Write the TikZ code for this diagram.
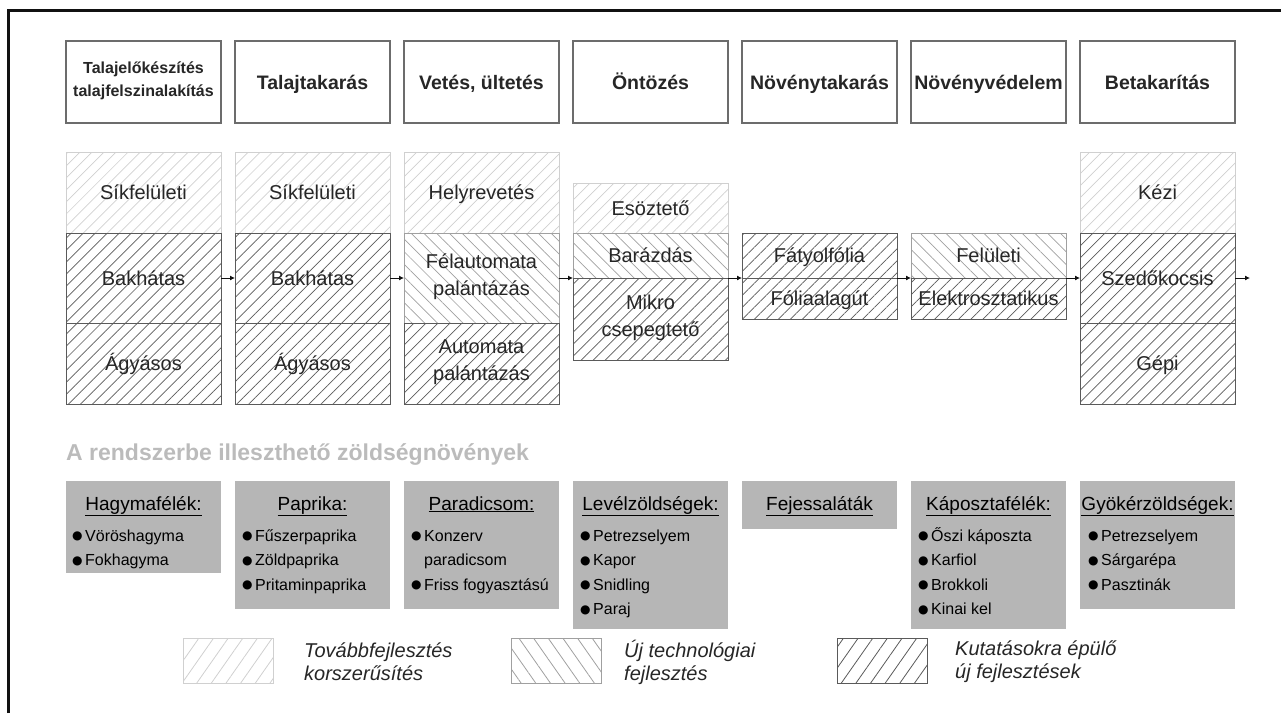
\documentclass[tikz,border=0pt]{standalone}
\usepackage{fontspec}
\setmainfont{Liberation Sans}
\newfontfamily\symfont{DejaVu Sans}
\usetikzlibrary{arrows.meta,positioning,patterns.meta}
\definecolor{FrameInk}{HTML}{111111}
\definecolor{HeadLine}{HTML}{6C6C6C}
\definecolor{HatchSoft}{HTML}{D0D0D0}
\definecolor{HatchMid}{HTML}{A0A0A0}
\definecolor{HatchDeep}{HTML}{5A5A5A}
\definecolor{CropFill}{HTML}{B6B6B6}
\definecolor{TitleGrey}{HTML}{BBBBBB}
\definecolor{InkText}{HTML}{262626}

\newcommand{\blt}{\makebox[13pt][l]{\raisebox{1.2pt}{\symfont\fontsize{12}{12}\selectfont ●}}}
\newcommand{\vstr}{\rule[-6pt]{0pt}{26.3pt}}
\newcommand{\fstr}{\rule[-5pt]{0pt}{21.5pt}}

\tikzset{
  stage/.style={draw=HeadLine, line width=1.4pt, fill=white, minimum width=155, minimum height=82,
    inner sep=0pt, align=center, text=InkText, font=\bfseries\fontsize{19.5}{23}\selectfont,
    execute at begin node=\vstr, execute at end node=\vstr},
  cellbase/.style={minimum width=155, inner sep=0pt, outer sep=0pt, align=center,
    text=InkText, line width=1pt, font=\fontsize{20}{27}\selectfont,
    execute at begin node=\vstr, execute at end node=\vstr},
  softcell/.style={cellbase, draw=HatchSoft, pattern color=HatchSoft,
    pattern={Lines[angle=45,distance=8.5pt,line width=0.7pt]}},
  midcell/.style={cellbase, draw=HatchMid, pattern color=HatchMid,
    pattern={Lines[angle=-45,distance=9pt,line width=0.7pt]}},
  deepcell/.style={cellbase, draw=HatchDeep, pattern color=HatchDeep,
    pattern={Lines[angle=45,distance=8.5pt,line width=0.7pt]}},
  flow/.style={-{Latex[length=5pt,width=5pt]}, line width=0.9pt, draw=FrameInk},
  crop/.style={fill=CropFill, minimum width=155, inner sep=0pt, anchor=north},
  crophead/.style={anchor=base, inner sep=0pt, font=\fontsize{19}{22}\selectfont},
  croplist/.style={anchor=base west, inner sep=0pt, align=left, font=\fontsize{16}{24.5}\selectfont},
  keybox/.style={minimum width=90, minimum height=45, inner sep=0pt, anchor=north west, line width=1.2pt},
  keytext/.style={anchor=west, inner sep=0pt, align=left, text=InkText, font=\itshape\fontsize{20}{23}\selectfont}
}

\begin{document}
\begin{tikzpicture}[x=1pt, y=-1pt]
  \useasboundingbox (0,0) rectangle (1281,713);
  \draw[line width=2.8pt, FrameInk] (8.7,713) -- (8.7,10.7) -- (1281,10.7);

  \node[stage, font=\bfseries\fontsize{16}{23}\selectfont, execute at begin node=\fstr, execute at end node=\fstr] (st1) at (143.5,82) {Talajelőkészítés\\talajfelszinalakítás};
  \node[stage] (st2) at (312.5,82) {Talajtakarás};
  \node[stage] (st3) at (481.5,82) {Vetés, ültetés};
  \node[stage] (st4) at (650.5,82) {Öntözés};
  \node[stage] (st5) at (819.5,82) {Növénytakarás};
  \node[stage] (st6) at (988.5,82) {Növényvédelem};
  \node[stage] (st7) at (1157.5,82) {Betakarítás};

  \node[softcell, minimum height=81, anchor=north] (sik1) at (143.5,152) {Síkfelületi};
  \node[deepcell, minimum height=90, below=0pt of sik1] (bak1) {Bakhátas};
  \node[deepcell, minimum height=81, below=0pt of bak1] (agy1) {Ágyásos};

  \node[softcell, minimum height=81, anchor=north] (sik2) at (312.5,152) {Síkfelületi};
  \node[deepcell, minimum height=90, below=0pt of sik2] (bak2) {Bakhátas};
  \node[deepcell, minimum height=81, below=0pt of bak2] (agy2) {Ágyásos};

  \node[softcell, minimum height=81, anchor=north] (hely3) at (481.5,152) {Helyrevetés};
  \node[midcell, minimum height=90, below=0pt of hely3] (fel3) {Félautomata\\palántázás};
  \node[deepcell, minimum height=81, below=0pt of fel3] (aut3) {Automata\\palántázás};

  \node[softcell, minimum height=50, anchor=north] (eso4) at (650.5,183) {Esöztető};
  \node[midcell, minimum height=45, below=0pt of eso4] (bar4) {Barázdás};
  \node[deepcell, minimum height=82, below=0pt of bar4] (mik4) {Mikro\\csepegtető};

  \node[deepcell, minimum height=45, anchor=north] (fat5) at (819.5,233) {Fátyolfólia};
  \node[deepcell, minimum height=41, below=0pt of fat5] (fol5) {Fóliaalagút};

  \node[midcell, minimum height=45, anchor=north] (fel6) at (988.5,233) {Felületi};
  \node[deepcell, minimum height=41, below=0pt of fel6] (ele6) {Elektrosztatikus};

  \node[softcell, minimum height=81, anchor=north] (kez7) at (1157.5,152) {Kézi};
  \node[deepcell, minimum height=90, below=0pt of kez7] (sze7) {Szedőkocsis};
  \node[deepcell, minimum height=81, below=0pt of sze7] (gep7) {Gépi};

  \coordinate (tail) at (1250,278);
  \draw[flow] (bak1.east) -- (bak2.west);
  \draw[flow] (bak2.east) -- (fel3.west);
  \draw[flow] (fel3.east) -- (bar4.south west);
  \draw[flow] (bar4.south east) -- (fat5.south west);
  \draw[flow] (fat5.south east) -- (fel6.south west);
  \draw[flow] (fel6.south east) -- (sze7.west);
  \draw[flow] (sze7.east) -- (tail);

  \node[anchor=base west, inner sep=0pt, text=TitleGrey, font=\bfseries\fontsize{23}{26}\selectfont] (title) at (66,460) {A rendszerbe illeszthető zöldségnövények};

  \node[crop, minimum height=92] (hagyma) at (143.5,481) {};
  \node[crophead] (hagymahead) at (143.5,510) {\underline{Hagymafélék:}};
  \node[croplist] (hagymalist) at (72,565.5) {\blt Vöröshagyma\\\blt Fokhagyma};

  \node[crop, minimum height=128] (paprika) at (312.5,481) {};
  \node[crophead] (paprikahead) at (312.5,510) {\underline{Paprika:}};
  \node[croplist] (paprikalist) at (242,590) {\blt Fűszerpaprika\\\blt Zöldpaprika\\\blt Pritaminpaprika};

  \node[crop, minimum height=128] (paradi) at (481.5,481) {};
  \node[crophead] (paradihead) at (481.5,510) {\underline{Paradicsom:}};
  \node[croplist] (paradilist) at (411,590) {\blt Konzerv\\\phantom{\blt}paradicsom\\\blt Friss fogyasztású};

  \node[crop, minimum height=148] (level) at (650.5,481) {};
  \node[crophead] (levelhead) at (650.5,510) {\underline{Levélzöldségek:}};
  \node[croplist] (levellist) at (580,614.5) {\blt Petrezselyem\\\blt Kapor\\\blt Snidling\\\blt Paraj};

  \node[crop, minimum height=48] (fejes) at (819.5,481) {};
  \node[crophead] (fejeshead) at (819.5,510) {\underline{Fejessaláták}};

  \node[crop, minimum height=148] (kaposzta) at (988.5,481) {};
  \node[crophead] (kaposztahead) at (988.5,510) {\underline{Káposztafélék:}};
  \node[croplist] (kaposztalist) at (918,614.5) {\blt Őszi káposzta\\\blt Karfiol\\\blt Brokkoli\\\blt Kinai kel};

  \node[crop, minimum height=128] (gyoker) at (1157.5,481) {};
  \node[crophead] (gyokerhead) at (1157.5,510) {\underline{Gyökérzöldségek:}};
  \node[croplist] (gyokerlist) at (1088,590) {\blt Petrezselyem\\\blt Sárgarépa\\\blt Pasztinák};

  \node[keybox, draw=HatchSoft, pattern color=HatchSoft, pattern={Lines[angle=55,distance=12pt,line width=0.8pt]}] (keysoft) at (183,638) {};
  \node[keytext] (keysofttext) at (304,662) {Továbbfejlesztés\\korszerűsítés};
  \node[keybox, draw=HatchMid, pattern color=HatchMid, pattern={Lines[angle=-55,distance=12pt,line width=0.8pt]}] (keymid) at (511,638) {};
  \node[keytext] (keymidtext) at (624,662) {Új technológiai\\fejlesztés};
  \node[keybox, draw=HatchDeep, pattern color=HatchDeep, pattern={Lines[angle=55,distance=12pt,line width=0.8pt]}] (keydeep) at (837,638) {};
  \node[keytext] (keydeeptext) at (955,662) {Kutatásokra épülő\\új fejlesztések};
\end{tikzpicture}
\end{document}
